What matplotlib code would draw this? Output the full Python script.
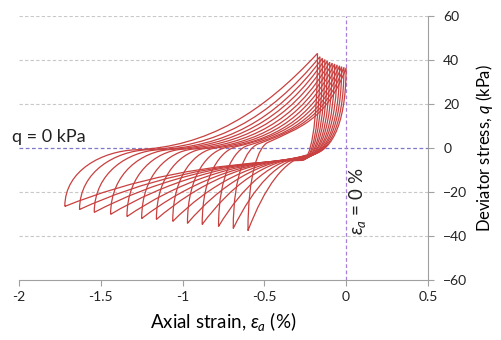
import matplotlib
matplotlib.use('Agg')
import matplotlib.pyplot as plt
from matplotlib.path import Path
from matplotlib.patches import PathPatch

# valeurs (une boucle par cycle, de droite a gauche)
trough_strain = [-0.60, -0.69, -0.78, -0.88, -0.97, -1.06, -1.16, -1.25, -1.34, -1.44, -1.54, -1.63, -1.72]
trough_q = [-37.5, -36.5, -35.6, -34.7, -34.2, -33.3, -32.4, -32.0, -31.1, -30.1, -29.2, -27.9, -26.5]
knee_strain = [-0.48, -0.54, -0.60, -0.67, -0.73, -0.80, -0.87, -0.94, -1.01, -1.08, -1.15, -1.22, -1.29]
knee_q = [2.5, 1.8, 1.2, 0.7, 0.3, 0.0, -0.3, -0.5, -0.6, -0.7, -0.8, -0.8, -0.8]
knee_slope = [35, 28, 22, 17, 13, 10, 8, 7, 6, 5, 4, 3.5, 3]
peak_strain = [0.0, -0.013, -0.027, -0.04, -0.055, -0.07, -0.085, -0.10, -0.115, -0.13, -0.145, -0.16, -0.175]
peak_q = [36.4, 36.7, 37.0, 37.4, 37.8, 38.2, 38.6, 39.0, 39.6, 40.2, 40.8, 41.5, 43.0]
peak_slope = [200, 190, 180, 170, 160, 150, 140, 130, 120, 110, 100, 90, 80]
hub_strain = [-0.23, -0.235, -0.24, -0.245, -0.25, -0.25, -0.255, -0.255, -0.26, -0.26, -0.265, -0.265, -0.27]
hub_q = [-3.0, -3.3, -3.5, -3.8, -4.0, -4.2, -4.4, -4.6, -4.8, -5.0, -5.2, -5.4, -5.6]

xticks = [-2, -1.5, -1, -0.5, 0, 0.5]
yticks = [-60, -40, -20, 0, 20, 40, 60]

plt.rcParams['font.family'] = ['Lato', 'DejaVu Sans']
plt.rcParams['mathtext.fontset'] = 'custom'
plt.rcParams['mathtext.rm'] = 'Lato'
plt.rcParams['mathtext.it'] = 'Lato:italic'

fig = plt.figure(figsize=(5.01, 3.40), dpi=100)
ax = fig.add_axes([0.038, 0.176, 0.816, 0.777])

red = '#C8403F'
for i in range(len(trough_strain)):
    ts, tq = trough_strain[i], trough_q[i]
    ks, kq, m = knee_strain[i], knee_q[i], knee_slope[i]
    ps, pq, mp = peak_strain[i], peak_q[i], peak_slope[i]
    hs, hq = hub_strain[i], hub_q[i]
    h = 0.45 * (ks - ts)
    a = 0.4 * (ps - ks)
    b = min(0.3 * (ps - ks), 0.7 * (pq - kq) / mp)
    verts = [
        (ts, tq),
        (ts, tq + 0.65 * (kq - tq)), (ks - h, kq - m * h), (ks, kq),           # rechargement
        (ks + a, kq + m * a), (ps - b, pq - mp * b), (ps, pq),
        (ps, hq + 0.3 * (pq - hq)), (ps + 0.45 * (hs - ps), hq), (hs, hq),     # decharge
        (hs + 0.4 * (ts - hs), hq + 0.06 * (tq - hq)),
        (hs + 0.72 * (ts - hs), hq + 0.42 * (tq - hq)), (ts, tq),              # extension
    ]
    codes = [Path.MOVETO] + [Path.CURVE4] * 12
    ax.add_patch(PathPatch(Path(verts, codes), fill=False, edgecolor=red, lw=0.9))

# grille et lignes de référence
for y in [60, 40, 20, -20, -40]:
    ax.axhline(y, color='#C8C8C8', lw=0.8, ls=(0, (3, 2)), zorder=0)
ax.axhline(0, color='#7F78C8', lw=0.9, ls=(0, (3, 2)), zorder=0)
ax.axvline(0, color='#A77FD8', lw=0.9, ls=(0, (3, 2)), zorder=0)

ax.set_xlim(-2, 0.5)
ax.set_ylim(-60, 60)
ax.set_xticks(xticks)
ax.set_xticklabels(['-2', '-1.5', '-1', '-0.5', '0', '0.5'])
ax.set_yticks(yticks)
ax.yaxis.tick_right()
ax.yaxis.set_label_position('right')
for s in ['left', 'top']:
    ax.spines[s].set_visible(False)
for s in ['right', 'bottom']:
    ax.spines[s].set_color('#A0A0A0')
ax.tick_params(axis='both', direction='out', length=4, color='#A0A0A0', labelsize=10, labelcolor='#222222')
ax.tick_params(axis='y', pad=7)

ax.set_xlabel(r'Axial strain, $\varepsilon_a$ (%)', fontsize=13.5, labelpad=5)
ax.set_ylabel(r'Deviator stress, $q$ (kPa)', fontsize=12, labelpad=5)

ax.text(-2.04, 1.5, 'q = 0 kPa', fontsize=13, ha='left', va='bottom', color='#222222')
ax.text(0.068, -24, r'$\varepsilon_a$ = 0 %', fontsize=13.5, rotation=90, ha='center', va='center', color='#222222')

fig.savefig('out.png', dpi=100)
